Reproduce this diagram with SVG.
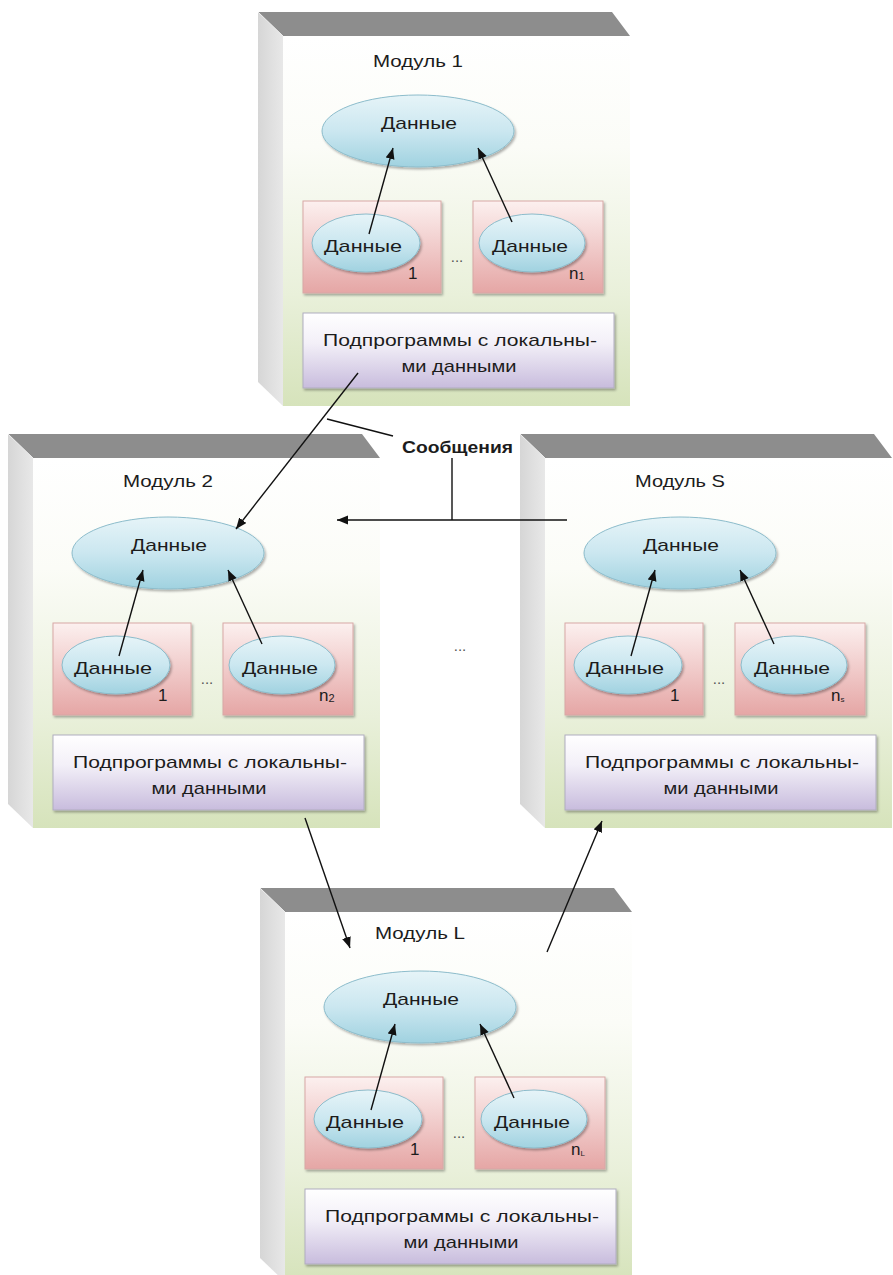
<svg xmlns="http://www.w3.org/2000/svg" width="893" height="1275" viewBox="0 0 893 1275">
  <style>
    text { font-family: "Liberation Sans", Arial, sans-serif; fill: #1c1c1c; }
    .title { font-size: 17px; text-anchor: middle; }
    .lbl { font-size: 17px; text-anchor: middle; }
    .sub { font-size: 17px; }
    .dots { font-size: 15px; text-anchor: middle; fill: #555; }
    .msg { font-size: 17px; font-weight: bold; }
    .top { fill: #8d8d8d; }
    .side { fill: url(#sideGrad); }
    .front { fill: url(#frontGrad); }
    .big { fill: url(#blueGrad); stroke: #8cbccb; stroke-width: 1; filter: url(#shadow); }
    .small { fill: url(#blueGrad); stroke: #8cbccb; stroke-width: 1; filter: url(#shadow); }
    .box { fill: url(#pinkGrad); stroke: #d7a7a6; stroke-width: 1; filter: url(#shadow); }
    .proc { fill: url(#lavGrad); stroke: #b0adbf; stroke-width: 1; filter: url(#shadow); }
    .conn { stroke: #111; stroke-width: 1.4; fill: none; }
    .arr { marker-end: url(#head); }
  </style>
  <defs>
    <linearGradient id="frontGrad" x1="0" y1="0" x2="0" y2="1">
      <stop offset="0" stop-color="#ffffff"/>
      <stop offset="0.3" stop-color="#fbfcf7"/>
      <stop offset="0.7" stop-color="#e9f0da"/>
      <stop offset="1" stop-color="#d6e3bb"/>
    </linearGradient>
    <linearGradient id="sideGrad" x1="0" y1="0" x2="1" y2="0">
      <stop offset="0" stop-color="#d6d6d6"/>
      <stop offset="1" stop-color="#e8e8e8"/>
    </linearGradient>
    <linearGradient id="blueGrad" x1="0" y1="0" x2="0" y2="1">
      <stop offset="0" stop-color="#e6f4f8"/>
      <stop offset="0.5" stop-color="#cbe7f0"/>
      <stop offset="1" stop-color="#a0d2e0"/>
    </linearGradient>
    <linearGradient id="pinkGrad" x1="0" y1="0" x2="0" y2="1">
      <stop offset="0" stop-color="#fcf0ef"/>
      <stop offset="1" stop-color="#e5a6a5"/>
    </linearGradient>
    <linearGradient id="lavGrad" x1="0" y1="0" x2="0" y2="1">
      <stop offset="0" stop-color="#ffffff"/>
      <stop offset="0.4" stop-color="#f3f0f8"/>
      <stop offset="1" stop-color="#c8bcdd"/>
    </linearGradient>
    <filter id="shadow" x="-10%" y="-10%" width="125%" height="130%">
      <feDropShadow dx="1.5" dy="2" stdDeviation="1.2" flood-color="#000" flood-opacity="0.3"/>
    </filter>
    <marker id="head" markerUnits="userSpaceOnUse" markerWidth="12" markerHeight="10" refX="11" refY="4.5" orient="auto">
      <path d="M0,0 L11,4.5 L0,9 z" fill="#111"/>
    </marker>
    <!-- cube body shared by all modules, origin = top-left of the front face -->
    <g id="cube">
      <polygon class="side" points="-25,-24 0,0 0,370 -25,346"/>
      <polygon class="top" points="-25,-24 329,-24 347,0 0,0"/>
      <rect class="front" x="0" y="0" width="347" height="370"/>
      <line x1="-25" y1="-24" x2="0" y2="0" stroke="#efefef" stroke-width="1"/>
    </g>
    <!-- inner content shared by all modules -->
    <g id="inner">
      <ellipse class="big" cx="135" cy="95" rx="96" ry="36"/>
      <text class="lbl" x="136" y="93" textLength="76" lengthAdjust="spacingAndGlyphs">Данные</text>
      <rect class="box" x="20" y="165" width="138" height="92"/>
      <rect class="box" x="190" y="165" width="130" height="92"/>
      <ellipse class="small" cx="83" cy="207" rx="54" ry="29"/>
      <ellipse class="small" cx="249" cy="207" rx="53" ry="29"/>
      <text class="lbl" x="80" y="216" textLength="78" lengthAdjust="spacingAndGlyphs">Данные</text>
      <text class="lbl" x="247" y="216" textLength="76" lengthAdjust="spacingAndGlyphs">Данные</text>
      <text class="sub" x="125" y="243">1</text>
      <text class="dots" x="174" y="226">...</text>
      <rect class="proc" x="20" y="277" width="311" height="75"/>
      <text class="lbl" x="177" y="310" textLength="274" lengthAdjust="spacingAndGlyphs">Подпрограммы с локальны-</text>
      <text class="lbl" x="176" y="336" textLength="115" lengthAdjust="spacingAndGlyphs">ми данными</text>
    </g>
  </defs>

  <!-- Module 1 -->
  <g id="module-1" transform="translate(283,36)">
    <use href="#cube"/>
    <text class="title" x="135" y="31" textLength="90" lengthAdjust="spacingAndGlyphs">Модуль 1</text>
    <use href="#inner"/>
    <text class="sub" x="286" y="243">n<tspan font-size="11" dy="1">1</tspan></text>
  </g>

  <!-- Module 2 -->
  <g id="module-2" transform="translate(33,458)">
    <use href="#cube"/>
    <text class="title" x="135" y="29" textLength="90" lengthAdjust="spacingAndGlyphs">Модуль 2</text>
    <use href="#inner"/>
    <text class="sub" x="286" y="243">n<tspan font-size="11" dy="1">2</tspan></text>
  </g>

  <!-- Module S -->
  <g id="module-s" transform="translate(545,458)">
    <use href="#cube"/>
    <text class="title" x="135" y="29" textLength="90" lengthAdjust="spacingAndGlyphs">Модуль S</text>
    <use href="#inner"/>
    <text class="sub" x="286" y="243">n<tspan font-size="8" dy="1">s</tspan></text>
  </g>

  <!-- Module L -->
  <g id="module-l" transform="translate(285,912)">
    <use href="#cube"/>
    <text class="title" x="135" y="27" textLength="90" lengthAdjust="spacingAndGlyphs">Модуль L</text>
    <use href="#inner"/>
    <text class="sub" x="286" y="243">n<tspan font-size="8" dy="1">L</tspan></text>
  </g>

  <!-- ellipsis between the middle modules -->
  <text id="gap-dots" class="dots" x="460" y="651">...</text>

  <!-- message label -->
  <text id="messages" class="msg" x="402" y="453" textLength="111" lengthAdjust="spacingAndGlyphs">Сообщения</text>

  <g id="connectors">
    <!-- inside module 1 -->
    <line class="conn arr" x1="369" y1="234" x2="393" y2="148"/>
    <line class="conn arr" x1="512" y1="222" x2="478" y2="148"/>
    <!-- inside module 2 -->
    <line class="conn arr" x1="119" y1="656" x2="143" y2="570"/>
    <line class="conn arr" x1="262" y1="644" x2="228" y2="570"/>
    <!-- inside module S -->
    <line class="conn arr" x1="631" y1="656" x2="655" y2="570"/>
    <line class="conn arr" x1="774" y1="644" x2="740" y2="570"/>
    <!-- inside module L -->
    <line class="conn arr" x1="371" y1="1110" x2="395" y2="1024"/>
    <line class="conn arr" x1="514" y1="1098" x2="480" y2="1024"/>

    <!-- messages between modules -->
    <line class="conn arr" x1="358" y1="373" x2="236" y2="529"/>
    <line class="conn arr" x1="567" y1="520" x2="337" y2="520"/>
    <line class="conn arr" x1="305" y1="818" x2="350" y2="948"/>
    <line class="conn arr" x1="547" y1="952" x2="602" y2="821"/>

    <!-- label callouts -->
    <line class="conn" x1="327" y1="419" x2="393" y2="436"/>
    <line class="conn" x1="452" y1="458" x2="452" y2="520"/>
  </g>
</svg>
